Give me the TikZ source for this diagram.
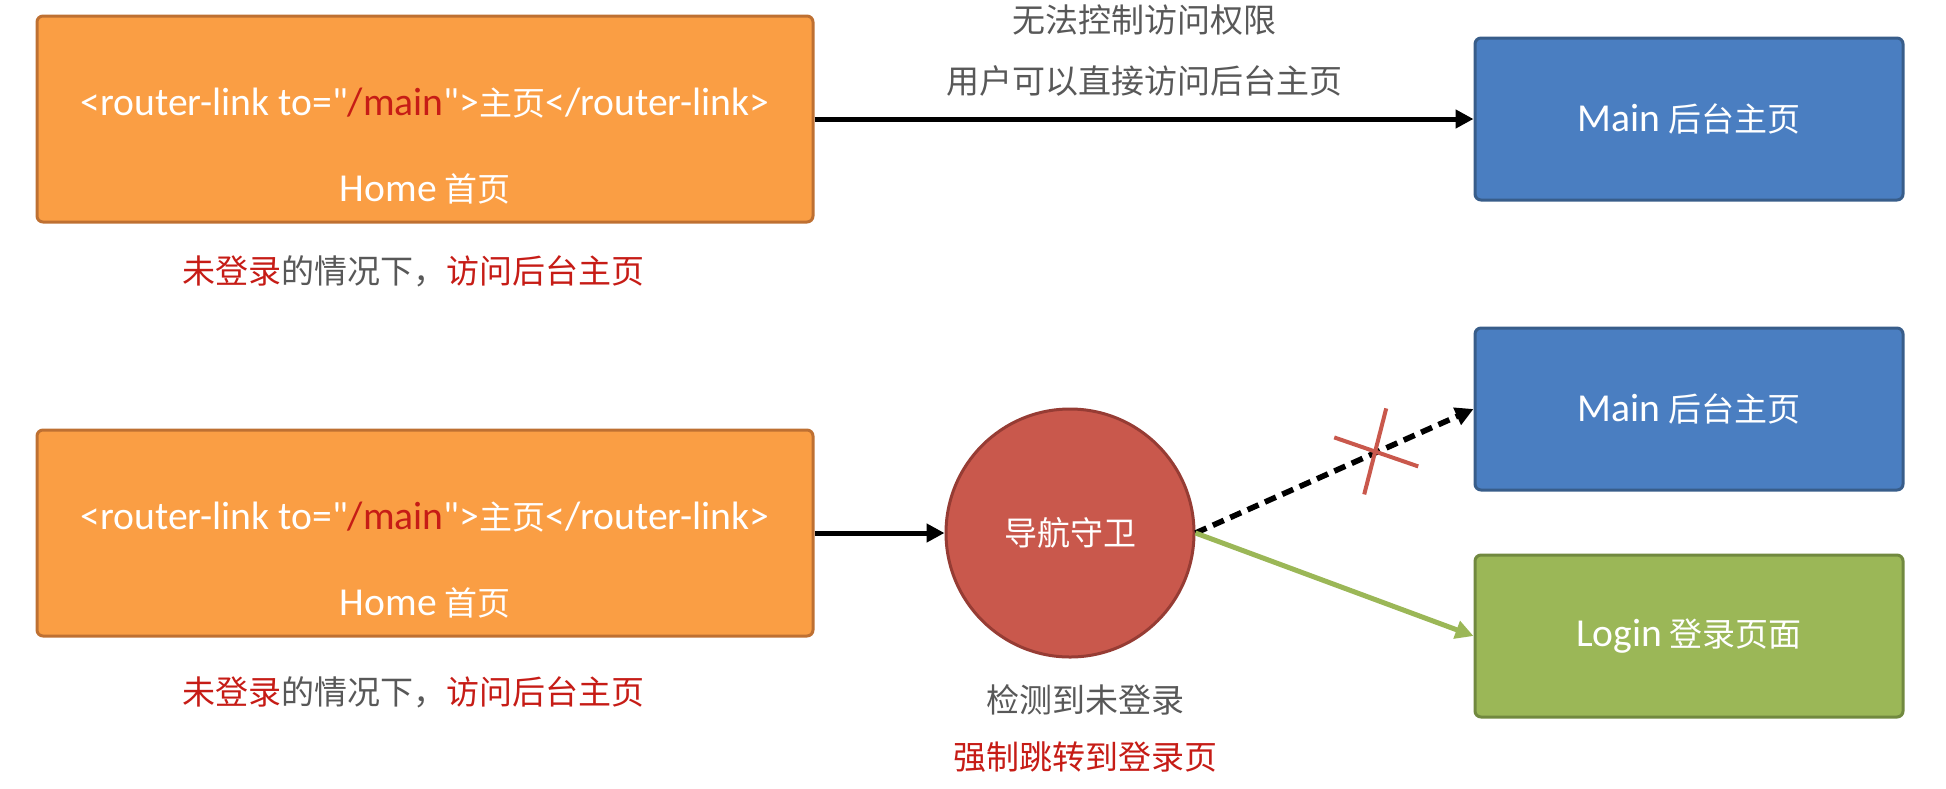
\documentclass[tikz,border=0pt]{standalone}
\usepackage{fontspec}
\usepackage{xcolor}
\setmainfont{Noto Sans CJK SC}
\newfontfamily\latfont{Carlito}[Scale=1.2]
\usetikzlibrary{arrows.meta,positioning}
\definecolor{rtorange}{RGB}{250,158,68}
\definecolor{rtorangeline}{RGB}{190,112,50}
\definecolor{rtblue}{RGB}{74,126,193}
\definecolor{rtblueline}{RGB}{56,93,138}
\definecolor{rtgreen}{RGB}{155,183,87}
\definecolor{rtgreenline}{RGB}{113,137,63}
\definecolor{rtguard}{RGB}{201,88,76}
\definecolor{rtguardline}{RGB}{150,60,52}
\definecolor{rtred}{RGB}{198,28,22}
\definecolor{rtgray}{RGB}{88,88,88}
\newcommand{\lat}[1]{{\latfont #1}}
\newcommand{\rtfont}{\fontsize{16.5pt}{20pt}\selectfont}

\begin{document}
\begin{tikzpicture}[x=0.5pt, y=-0.5pt,
  home/.style={rectangle, rounded corners=3pt, draw=rtorangeline, line width=1.5pt, fill=rtorange,
              minimum width=388pt, minimum height=103pt},
  page/.style={rectangle, rounded corners=3pt, line width=1.5pt, minimum width=214pt,
              minimum height=81pt, text=white, font=\rtfont},
  mainpage/.style={page, draw=rtblueline, fill=rtblue},
  loginpage/.style={page, draw=rtgreenline, fill=rtgreen},
  guardnode/.style={circle, draw=rtguardline, line width=1.5pt, fill=rtguard, minimum size=124pt,
              text=white, font=\rtfont},
  boxtext/.style={text=white, font=\rtfont, inner sep=0pt},
  note/.style={text=rtgray, font=\rtfont, inner sep=0pt},
  link/.style={line width=2.5pt, -{Triangle[length=9pt,width=9pt]}}]
\useasboundingbox (0,0) rectangle (1946,788);
\node[home] (home1) at (425,119) {};
\node[mainpage, right=329.5pt of home1] (main1) {\lat{Main} 后台主页};
\node[home, below=102.5pt of home1] (home2) {};
\node[guardnode, right=65pt of home2] (guard) {导航守卫};
\node[mainpage, below=62.5pt of main1] (main2) {\lat{Main} 后台主页};
\node[loginpage, below=31pt of main2] (login) {\lat{Login} 登录页面};
% texts in and under the two home boxes
\node[boxtext] (link1) at ([yshift=-44.5pt]home1.north)
  {\lat{<router-link to="}\textcolor{rtred}{\lat{/main}}\lat{">}主页\lat{</router-link>}};
\node[boxtext] (name1) at ([yshift=17.5pt]home1.south) {\lat{Home} 首页};
\node[note] (cap1) at ([xshift=-6pt, yshift=-24pt]home1.south)
  {\textcolor{rtred}{未登录}的情况下，\textcolor{rtred}{访问后台主页}};
\node[boxtext] (link2) at ([yshift=-44.5pt]home2.north)
  {\lat{<router-link to="}\textcolor{rtred}{\lat{/main}}\lat{">}主页\lat{</router-link>}};
\node[boxtext] (name2) at ([yshift=17.5pt]home2.south) {\lat{Home} 首页};
\node[note] (cap2) at ([xshift=-6pt, yshift=-27.5pt]home2.south)
  {\textcolor{rtred}{未登录}的情况下，\textcolor{rtred}{访问后台主页}};
\node[note] (check) at ([xshift=7.5pt, yshift=-20.5pt]guard.south) {检测到未登录};
\node[note, text=rtred] (force) at ([xshift=7.5pt, yshift=-49.5pt]guard.south) {强制跳转到登录页};
% connectors
\draw[link] (home1) -- coordinate (mid1) (main1);
\node[note] (direct) at ([yshift=19pt]mid1) {用户可以直接访问后台主页};
\node[note] (noauth) at ([yshift=49.5pt]mid1) {无法控制访问权限};
\draw[link] (home2) -- (guard);
\draw[link, dash pattern=on 6pt off 3.5pt, line width=2.8pt] (guard.east) -- coordinate[pos=0.65] (cross) (main2.west);
\draw[link, rtgreen] (guard.east) -- (login.west);
\draw[rtguard, line width=2pt] ([shift={(-42,-15)}]cross) -- ([shift={(42,14)}]cross);
\draw[rtguard, line width=2pt] ([shift={(10,-44)}]cross) -- ([shift={(-12,42)}]cross);
\end{tikzpicture}
\end{document}
